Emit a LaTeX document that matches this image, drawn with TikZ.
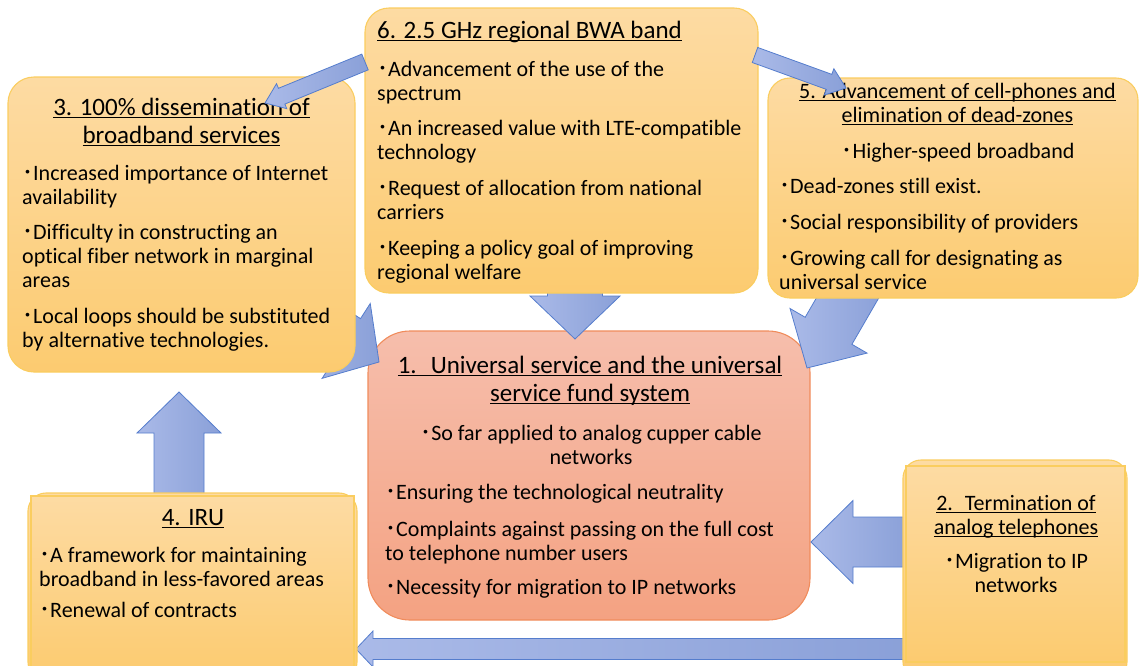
\documentclass[tikz,border=0pt]{standalone}
\usepackage{fontspec}
\setmainfont{Carlito}[Ligatures=NoCommon]
\newfontfamily\cjk{Noto Sans CJK JP}
\usetikzlibrary{calc}
\definecolor{obTop}{RGB}{253,219,163}
\definecolor{obBot}{RGB}{252,203,112}
\definecolor{obDraw}{RGB}{250,205,95}
\definecolor{rbTop}{RGB}{246,190,172}
\definecolor{rbBot}{RGB}{244,162,130}
\definecolor{rbDraw}{RGB}{240,140,92}
\definecolor{arL}{RGB}{170,186,232}
\definecolor{arR}{RGB}{138,160,216}
\definecolor{arD}{RGB}{85,125,205}
\newsavebox\ulbox
\newcommand\myul[1]{\sbox\ulbox{#1}\rlap{\rule[-3.2pt]{\wd\ulbox}{1.2pt}}\usebox\ulbox}
\newcommand\bul{{\cjk ･}}
\newcommand\fsb{\rule{0pt}{18pt}}
\newcommand\fst{\rule{0pt}{20pt}}
% block arrow: tail, tip, half shaft, half head, head length
\newcommand\barrow[5]{%
  \path[arrowst] ($(#1)!#3!90:(#2)$) -- ($($(#2)!#5!(#1)$)!#3!90:(#2)$)
    -- ($($(#2)!#5!(#1)$)!#4!90:(#2)$) -- (#2)
    -- ($($(#2)!#5!(#1)$)!#4!-90:(#2)$) -- ($($(#2)!#5!(#1)$)!#3!-90:(#2)$)
    -- ($(#1)!#3!-90:(#2)$) -- cycle;}
\tikzset{
  obox/.style={draw=obDraw, line width=1.1pt, top color=obTop, bottom color=obBot, inner sep=0pt},
  rbox/.style={draw=rbDraw, line width=1.1pt, top color=rbTop, bottom color=rbBot, inner sep=0pt},
  arrowst/.style={draw=arD, line width=0.8pt, left color=arL, right color=arR},
  body/.style={inner sep=0pt, font=\fontsize{22}{24}\selectfont, align=left, anchor=north west},
  bodyc/.style={inner sep=0pt, font=\fontsize{22}{24}\selectfont, align=center, anchor=north},
  ttl/.style={inner sep=0pt, font=\fontsize{25}{28}\selectfont, align=center, anchor=north},
  ttll/.style={inner sep=0pt, font=\fontsize{25}{28}\selectfont, align=left, anchor=north west},
}
\begin{document}
\begin{tikzpicture}[x=1pt, y=-1pt]
\useasboundingbox (0,0) rectangle (1139,665);
\clip (0,0) rectangle (1139,665);
% box 1
\node[rbox, rounded corners=42pt, minimum width=442pt, minimum height=289pt] (b1) at (589,475.5) {};
\node[ttl] (t1) at (590,353) {\fst\myul{1.\hspace{14pt}Universal service and the universal}\\\myul{service fund system}};
\node[bodyc] (i1a) at (591,422) {\fsb\bul So far applied to analog cupper cable\\networks};
\node[body] (i1b) at (385,481) {\fsb\bul Ensuring the technological neutrality};
\node[body] (i1c) at (385,518) {\fsb\bul Complaints against passing on the full cost\\to telephone number users};
\node[body] (i1d) at (385,576) {\fsb\bul Necessity for migration to IP networks};
% coordinates for arrows
\coordinate (a61t) at (575,250); \coordinate (a61h) at (575,339);
\coordinate (a31t) at (295,308); \coordinate (a31h) at (379,362);
\coordinate (a51t) at (862,273); \coordinate (a51h) at (807,368);
\coordinate (a43t) at (179,500); \coordinate (a43h) at (179,392);
\coordinate (a21t) at (910,542); \coordinate (a21h) at (811,542);
\coordinate (a24t) at (910,649); \coordinate (a24h) at (356,649);
\coordinate (a63t) at (365,62); \coordinate (a63h) at (265,103);
\coordinate (a65t) at (755,55); \coordinate (a65h) at (846,88);
\barrow{a61t}{a61h}{27.5pt}{45pt}{43pt}
\barrow{a31t}{a31h}{26.5pt}{44.5pt}{39pt}
\barrow{a51t}{a51h}{27pt}{44.5pt}{43pt}
\barrow{a43t}{a43h}{25pt}{42pt}{41pt}
\barrow{a21t}{a21h}{25pt}{41.5pt}{42pt}
\barrow{a24t}{a24h}{10.5pt}{18pt}{17pt}
% box 6
\node[obox, rounded corners=24pt, minimum width=393pt, minimum height=285pt] (b6) at (561.5,150.5) {};
\node[ttll] (t6) at (377,18) {\fst\myul{6. 2.5 GHz regional BWA band}};
\node[body] (i6a) at (377,58) {\fsb\bul Advancement of the use of the\\spectrum};
\node[body] (i6b) at (377,117) {\fsb\bul An increased value with LTE-compatible\\technology};
\node[body] (i6c) at (377,177) {\fsb\bul Request of allocation from national\\carriers};
\node[body] (i6d) at (377,237) {\fsb\bul Keeping a policy goal of improving\\regional welfare};
% box 3
\node[obox, rounded corners=26pt, minimum width=347pt, minimum height=295pt] (b3) at (181.5,224.5) {};
\node[ttl] (t3) at (181.5,95) {\fst\myul{3. 100\% dissemination of}\\\myul{broadband services}};
\node[body] (i3a) at (22,162) {\fsb\bul Increased importance of Internet\\availability};
\node[body] (i3b) at (22,221) {\fsb\bul Difficulty in constructing an\\optical fiber network in marginal\\areas};
\node[body] (i3c) at (22,305) {\fsb\bul Local loops should be substituted\\by alternative technologies.};
% box 5
\node[obox, rounded corners=22pt, minimum width=370pt, minimum height=220pt] (b5) at (953,188) {};
\node[bodyc] (t5) at (957.5,80) {\fsb\myul{5. Advancement of cell-phones and}\\\myul{elimination of dead-zones}};
\node[bodyc] (i5a) at (958,140) {\fsb\bul Higher-speed broadband};
\node[body] (i5b) at (779,175) {\fsb\bul Dead-zones still exist.};
\node[body] (i5c) at (779,211) {\fsb\bul Social responsibility of providers};
\node[body] (i5d) at (779,247) {\fsb\bul Growing call for designating as\\universal service};
% box 2
\node[obox, rounded corners=18pt, minimum width=224pt, minimum height=220pt] (b2o) at (1015,570) {};
\node[obox, minimum width=219pt, minimum height=196pt] (b2) at (1015.5,564) {};
\node[bodyc] (t2) at (1016,492) {\fsb\myul{2.\hspace{12pt}Termination of}\\\myul{analog telephones}};
\node[bodyc] (i2a) at (1016,550) {\fsb\bul Migration to IP\\networks};
% box 4
\node[obox, rounded corners=18pt, minimum width=329pt, minimum height=187pt] (b4o) at (192.5,586.5) {};
\node[obox, minimum width=323pt, minimum height=180pt] (b4) at (192.5,586) {};
\node[ttl] (t4) at (193,505) {\fst\myul{4. IRU}};
\node[body] (i4a) at (39,544) {\fsb\bul A framework for maintaining\\broadband in less-favored areas};
\node[body] (i4b) at (39,599) {\fsb\bul Renewal of contracts};
% thin arrows on top
\barrow{a63t}{a63h}{8.5pt}{13.5pt}{18pt}
\barrow{a65t}{a65h}{8pt}{14pt}{18pt}
\end{tikzpicture}
\end{document}
